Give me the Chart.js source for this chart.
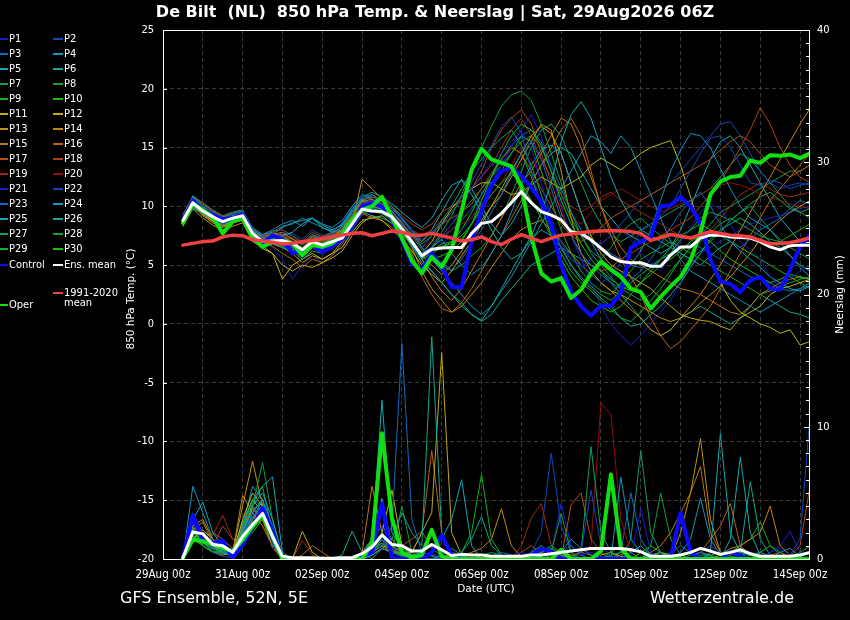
<!DOCTYPE html>
<html>
<head>
<meta charset="utf-8">
<script src="https://cdn.jsdelivr.net/npm/chart.js@4.4.1/dist/chart.umd.min.js"></script>
<style>
html,body{margin:0;padding:0;background:#000;width:850px;height:620px;overflow:hidden}
#wrap{position:relative;width:850px;height:620px;background:#000;font-family:'DejaVu Sans Condensed','DejaVu Sans',sans-serif;color:#fff}
#c{position:absolute;left:0;top:0}
.t{position:absolute;white-space:pre;line-height:1}
.sw{position:absolute;height:2px}
.lg{position:absolute;font-size:11px;line-height:12px;white-space:pre}
</style>
</head>
<body>
<div id="wrap">
<canvas id="c" width="850" height="620"></canvas>
<div class="t" id="title" style="left:0;width:870px;text-align:center;top:4px;font-family:'DejaVu Sans',sans-serif;font-weight:bold;font-size:16px">De Bilt  (NL)  850 hPa Temp. &amp; Neerslag | Sat, 29Aug2026 06Z</div>
<div class="t" style="left:120px;top:590px;font-size:16px;font-family:'DejaVu Sans',sans-serif">GFS Ensemble, 52N, 5E</div>
<div class="t" style="right:56px;top:590px;font-size:16px;font-family:'DejaVu Sans',sans-serif">Wetterzentrale.de</div>
<div class="t" style="left:436px;width:100px;text-align:center;top:583px;font-size:10.5px;font-family:'DejaVu Sans',sans-serif">Date (UTC)</div>
<div id="legend"></div>
</div>
<script>
// time steps (hours after 29Aug 00z)
const hours = [12,18,24,30,36,42,48,54, 60,66,72,78,84,90,96,102, 108,114,120,126,132,138,144,150, 156,162,168,174,180,186,192,198, 204,210,216,222,228,234,240,246, 252,258,264,270,276,282,288,294, 300,306,312,318,324,330,336,342, 348,354,360,366,372,378,384,390];
const dayTicks = [0,24,48,72,96,120,144,168,192,216,240,264,288,312,336,360,384];
const tickLabels = ['29Aug 00z','31Aug 00z','02Sep 00z','04Sep 00z','06Sep 00z','08Sep 00z','10Sep 00z','12Sep 00z','14Sep 00z'];
const axisTitles = ['850 hPa Temp. (°C)', 'Neerslag (mm)'];

const memberColors = ['#1a1ec8','#1048b8','#106cc0','#1096c0','#10aab4','#10a890','#10a05c','#10a040','#10b020','#10c010',
  '#b8b810','#c0a810','#bc9410','#c08810','#c07410','#b86410','#b45010','#b04018','#a02818','#901010',
  '#1a1ec8','#1048b8','#106cc0','#1096c0','#10aab4','#10a890','#10a05c','#10a040','#10b020','#10c010'];

// 850 hPa temperature (°C)
const climMean = [6.7,6.85,7.0,7.05,7.4,7.55,7.5,7.15, 7.05,6.95,6.8,6.85,7.0,7.1,7.25,7.4, 7.55,7.7,7.75,7.5,7.7,7.9,7.8,7.55, 7.55,7.7,7.5,7.3,7.05,7.15,7.4,7.0, 6.75,7.2,7.6,7.3,7.0,7.3,7.55,7.65, 7.75,7.85,7.9,7.95,7.9,7.85,7.7,7.1, 7.35,7.6,7.45,7.3,7.6,7.85,7.7,7.55, 7.5,7.4,7.1,6.8,6.85,6.9,7.1,7.3];
const ensMean = [8.8,10.3,9.6,9.1,8.7,9.0,9.2,7.7, 7.0,7.05,7.1,6.85,6.3,7.0,6.7,7.0, 7.3,8.5,9.75,9.6,9.55,9.1,8.1,7.0, 5.8,6.35,6.45,6.5,6.5,7.7,8.55,8.7, 9.4,10.3,11.25,10.3,9.55,9.25,8.85,7.85, 7.7,7.15,6.45,5.7,5.3,5.2,5.2,4.9, 4.9,5.85,6.55,6.55,7.3,7.55,7.55,7.4, 7.35,7.3,7.0,6.55,6.3,6.65,6.7,6.7];
const oper = [8.6,10.25,9.7,9.1,7.7,8.7,9.0,7.3, 6.55,7.0,7.0,6.85,5.85,6.7,6.55,6.85, 7.6,8.85,9.7,10.0,10.8,9.0,7.3,5.4, 4.3,5.7,4.85,6.3,9.6,13.1,14.9,14.0, 13.7,13.4,11.7,7.4,4.3,3.6,3.9,2.2, 2.9,4.3,5.3,4.6,4.0,3.0,2.7,1.3, 2.3,3.2,4.0,5.4,7.8,11.0,12.1,12.5, 12.6,13.9,13.7,14.35,14.3,14.4,14.1,14.5];
const control = [8.8,10.5,9.7,9.3,8.9,9.0,9.3,7.5, 6.9,7.5,7.2,6.0,6.2,6.8,6.1,6.6, 7.2,8.4,10.0,10.25,10.0,8.85,7.15,5.15, 4.6,6.0,4.85,3.15,3.1,7.0,9.6,11.8, 13.0,13.3,12.6,11.6,10.4,8.4,5.0,2.7, 1.5,0.7,1.55,1.55,2.6,6.5,7.0,7.4, 10.0,10.1,10.8,10.0,8.5,5.5,3.6,3.4, 2.7,3.7,4.0,3.0,2.9,4.6,6.6,7.6];

const p01 = [9,10.5,9.8,9.2,8.9,9.3,9.5,7.8, 7.2,7.0,7.3,6.5,6.0,6.8,6.3,6.9, 7.5,8.8,10.2,10.5,10.0,9.4,8.5,7.2, 6.0,6.8,7.5,8.5,9.8,11.5,12.6,13.8, 14.5,15.5,16.4,15.0,12.0,9.0,7.0,5.5, 4.8,5.5,6.8,7.5,8.0,7.2,6.0,5.2, 4.5,5.8,7.0,8.2,9.5,10.2,9.8,8.5, 7.0,6.3,5.5,4.0,3.2,3.8,4.5,5.0];
const p02 = [8.5,10.2,9.5,9.0,8.5,8.9,9.0,7.5, 6.8,7.0,6.6,6.2,5.8,6.5,6.0,6.6, 7.0,8.0,9.5,9.8,9.9,9.5,8.8,8.0, 7.2,7.8,8.4,9.5,10.8,12.0,13.6,15.2, 16.8,17.6,16.2,13.0,10.0,8.0,6.5,5.5, 5.0,4.2,3.5,4.0,5.2,6.5,7.8,8.5, 9.2,10.0,11.5,13.0,14.5,15.8,16.0,15.0, 13.5,12.0,11.8,12.2,12.0,11.5,11.8,12.0];
const p03 = [9.2,10.6,9.9,9.5,9.0,9.4,9.6,8.0, 7.5,7.2,7.8,7.5,6.8,7.5,7.3,7.6, 8.2,9.5,10.8,11.0,10.5,9.8,9.0,8.0, 6.5,5.8,5.2,4.6,5.5,6.8,8.0,9.5, 11.0,12.8,14.5,15.5,14.0,11.5,9.0,7.5, 6.0,5.0,4.2,3.5,3.0,3.8,4.5,5.5, 6.8,8.2,9.5,10.5,11.2,10.0,8.5,7.0, 6.5,7.2,8.0,8.5,9.0,9.8,10.5,10.2];
const p04 = [8.8,10.0,9.6,9.2,8.8,9.1,9.4,8.2, 7.6,7.8,8.3,8.5,9.0,8.6,8.2,7.9, 8.5,9.8,10.6,10.2,10.0,9.2,8.2,6.8, 5.5,6.5,7.2,6.0,5.0,4.2,4.8,6.0, 7.5,9.5,11.8,13.5,14.8,15.2,14.5,12.0, 9.5,7.0,5.5,4.8,4.2,5.0,6.2,8.0, 10.5,13.0,14.8,16.2,16.0,15.0,13.2,11.5, 10.0,9.0,8.5,8.0,7.0,5.8,4.8,4.0];
const p05 = [8.6,10.4,9.7,9.0,8.6,9.0,9.2,7.6, 7.0,7.2,7.5,7.8,8.5,9.0,8.2,7.8, 8.0,9.0,10.0,10.4,10.8,10.2,9.5,8.8, 8.2,9.0,10.5,11.8,12.2,11.0,9.5,8.0, 6.5,5.5,6.0,7.5,9.5,12.0,15.5,17.8, 18.9,17.5,15.0,12.5,10.5,9.0,8.0,7.5, 7.0,6.5,6.0,5.5,5.0,5.8,6.5,7.0, 6.2,5.5,4.8,4.0,3.5,3.0,2.8,3.2];
const p06 = [9.0,10.8,10.0,9.4,9.0,9.2,9.3,7.9, 7.3,6.8,6.5,6.2,5.5,6.2,6.0,6.5, 7.2,8.5,9.5,9.2,9.0,8.6,7.8,6.6, 5.2,4.5,3.5,2.5,1.8,0.8,0.3,1.5, 3.0,4.5,6.0,7.2,8.0,7.5,6.5,5.0, 3.8,3.0,2.2,1.5,0.5,-0.2,0.0,0.8, 1.5,2.5,3.5,4.8,6.0,7.2,8.0,8.5, 9.0,8.5,7.8,7.0,6.5,5.8,5.0,4.5];
const p07 = [8.4,9.8,9.4,8.9,8.4,8.8,9.1,7.6, 7.0,7.5,7.2,6.8,6.4,7.0,6.8,7.2, 7.8,9.2,10.6,11.0,10.4,9.6,8.6,7.6, 6.8,7.5,8.8,10.0,11.5,13.0,14.0,15.0, 15.8,16.5,15.2,13.5,11.0,8.5,6.5,5.0, 4.0,3.2,2.5,2.0,2.8,3.5,4.2,4.8, 5.5,6.0,7.2,8.0,9.0,9.5,9.2,8.8, 9.5,10.2,10.8,11.2,10.5,9.8,9.5,9.8];
const p08 = [9.1,10.5,9.8,9.3,8.8,9.2,9.4,7.8, 7.2,7.4,7.0,6.6,6.0,6.8,6.5,7.0, 7.6,8.8,10.0,10.2,10.0,9.3,8.3,7.0, 5.8,6.5,7.8,9.2,11.0,13.0,15.0,16.8, 18.5,19.5,19.8,19.0,17.0,14.5,12.0,9.5, 7.5,6.2,5.5,6.5,7.8,8.5,9.0,8.2, 7.5,6.8,6.0,5.5,6.2,7.0,7.8,8.8, 9.5,10.0,9.0,8.0,7.2,6.5,6.0,5.5];
const p09 = [8.7,10.1,9.5,9.0,8.6,9.0,9.2,7.5, 6.9,7.1,6.9,6.7,6.2,7.0,6.6,7.0, 7.4,8.6,9.8,9.6,9.4,8.8,7.9,6.9, 5.6,6.2,6.8,7.0,7.5,8.5,9.8,11.0, 12.0,12.8,12.0,10.5,9.0,7.5,6.0,4.5, 3.5,2.8,2.0,1.2,0.5,0.2,1.0,2.0, 3.0,4.2,5.5,6.5,7.0,7.8,8.5,9.0, 8.5,8.0,7.5,7.2,7.0,7.5,8.0,8.5];
const p10 = [8.9,10.4,9.7,9.1,8.7,9.1,9.3,7.7, 7.0,7.1,7.0,6.9,6.5,7.1,6.8,7.1, 7.4,8.6,9.9,9.8,9.6,9.0,8.0,6.9, 5.8,6.3,6.6,6.8,7.2,8.5,10.5,12.5, 14.5,16.0,17.0,16.5,15.2,13.0,10.5,8.5, 6.8,5.5,4.5,3.8,3.2,2.8,3.5,4.2, 5.0,5.5,6.2,7.0,7.5,7.0,6.2,5.5, 5.0,4.5,4.0,3.5,3.8,4.2,4.0,3.8];
const p11 = [8.5,10.0,9.4,8.8,8.4,8.7,8.9,7.3, 6.6,6.0,3.8,5.0,5.5,6.0,5.5,6.0, 6.5,7.8,8.8,9.0,9.2,8.5,7.6,6.8, 6.0,7.0,8.5,9.8,10.8,11.5,12.0,12.0, 11.5,11.0,11.2,11.8,12.5,12.0,11.5,12.0, 12.5,13.5,14.1,13.6,13.1,13.8,14.5,15.0, 15.3,15.6,13.5,10.8,8.0,5.5,3.5,2.0, 1.0,0.5,0.0,-0.3,-0.8,-0.5,-1.8,-1.5];
const p12 = [9.0,10.3,9.2,8.6,8.2,8.6,9.0,7.2, 6.4,6.0,5.0,4.5,5.0,4.8,5.2,5.6, 6.2,7.5,8.6,9.2,8.8,8.0,7.2,6.2, 5.0,4.2,3.5,4.5,5.8,7.0,8.5,10.0, 11.5,13.0,14.5,16.0,16.8,16.2,14.5,12.0, 9.5,7.5,6.0,5.0,4.5,4.0,3.5,3.0, 2.2,1.5,0.8,0.5,0.3,0.2,-0.2,-0.5, 0.5,1.0,1.5,2.5,3.0,3.2,3.5,3.8];
const p13 = [8.3,9.8,9.0,8.4,8.0,8.3,8.6,7.0, 6.5,6.8,6.5,6.0,5.2,5.8,5.5,6.0, 7.0,8.5,12.3,11.5,10.6,9.6,8.5,7.2, 5.8,5.0,4.2,5.0,6.2,7.5,8.8,10.0, 11.0,12.5,14.0,15.5,17.0,16.5,13.0,9.0, 6.0,4.5,3.5,2.8,2.5,2.0,1.5,1.0, 0.5,0.2,0.5,1.0,1.8,2.5,3.2,4.0, 5.0,6.0,7.2,8.0,8.8,9.5,10.0,10.5];
const p14 = [8.6,10.2,9.3,8.7,8.3,8.6,8.8,7.2, 6.8,7.1,7.4,7.0,6.4,7.0,6.8,7.3, 8.0,9.5,10.5,10.0,9.8,9.0,8.0,6.5, 4.5,3.0,2.0,1.0,1.5,2.5,3.5,4.8, 6.0,7.2,8.0,8.5,8.8,8.0,7.0,6.0, 5.0,4.2,3.5,2.8,2.0,1.2,0.5,-0.5, -1.0,-0.5,0.5,1.5,2.5,3.8,5.0,6.5, 8.0,9.5,11.0,12.5,14.0,15.5,17.0,18.3];
const p15 = [8.8,10.5,9.9,9.4,9.0,9.3,9.5,8.0, 7.4,7.6,7.8,7.2,6.8,7.5,7.1,7.5, 8.0,9.2,10.4,10.6,10.2,9.5,8.5,7.2, 5.5,4.0,2.8,2.0,3.0,4.5,6.0,7.5, 9.0,10.5,12.0,13.0,14.5,16.0,17.5,17.0, 15.0,12.5,10.0,8.0,6.5,5.5,5.0,4.5, 4.0,3.5,3.0,2.8,2.5,2.0,1.5,1.0, 0.8,1.5,2.5,3.0,3.5,3.8,4.0,3.8];
const p16 = [9.3,10.8,10.2,9.6,9.1,9.4,9.6,7.9, 7.1,6.6,6.0,5.5,4.8,5.5,5.2,5.8, 6.8,8.2,9.4,9.0,8.8,8.2,7.5,6.0, 4.0,2.5,1.3,1.0,1.8,3.0,4.5,6.0, 7.5,9.0,10.5,12.0,13.5,15.0,16.5,17.5, 16.0,13.0,10.0,7.5,5.5,4.0,2.5,0.5, -1.0,-2.1,-1.5,-0.5,0.5,1.5,3.0,4.5, 6.0,7.5,9.0,10.5,11.5,12.5,13.5,14.5];
const p17 = [8.7,10.1,9.6,9.1,8.7,9.0,9.3,7.8, 7.3,7.6,7.6,7.3,6.7,7.4,7.0,7.4, 7.9,9.0,10.2,10.3,10.0,9.2,8.4,7.6, 7.0,7.8,8.5,9.0,9.5,10.2,11.5,12.8, 14.0,15.0,14.5,13.0,11.5,10.0,8.5,7.5, 7.0,7.5,8.2,9.0,9.5,10.0,10.5,11.0, 11.5,12.0,12.5,13.0,13.5,14.0,14.8,15.5, 16.0,15.5,14.5,13.5,13.0,12.5,13.0,13.5];
const p18 = [8.9,10.4,9.8,9.3,8.9,9.2,9.5,7.9, 7.4,7.9,8.0,7.5,7.0,7.8,7.4,7.8, 8.2,9.4,10.5,10.8,10.6,10.0,9.2,8.5, 8.0,8.5,9.5,10.0,10.5,11.5,13.0,15.0, 16.5,17.5,18.2,17.0,14.5,12.0,9.5,7.5, 6.0,5.0,4.5,4.8,5.5,6.0,6.5,7.0, 7.5,8.0,8.5,9.0,10.0,11.0,12.0,13.5, 15.0,16.5,18.4,17.0,15.0,13.5,12.5,12.0];
const p19 = [8.6,10.0,9.5,9.0,8.5,8.9,9.1,7.5, 7.0,7.3,7.1,6.9,6.5,7.2,6.8,7.2, 7.7,8.8,9.9,10.0,9.9,9.4,8.7,8.0, 7.5,8.0,8.8,9.5,10.5,11.5,12.5,13.5, 15.0,16.5,17.5,16.0,14.0,12.5,11.0,10.0, 9.5,10.0,10.8,11.2,10.5,10.0,9.5,9.0, 8.5,8.0,7.5,7.2,7.5,8.0,9.0,10.0, 11.0,11.5,12.0,11.5,11.0,10.8,11.0,11.2];
const p20 = [9.0,10.6,10.0,9.5,9.1,9.4,9.6,8.0, 7.5,7.8,7.5,7.2,6.9,7.5,7.2,7.6, 8.0,9.2,10.3,10.5,10.0,9.3,8.4,7.5, 6.5,7.0,7.5,8.0,8.5,9.0,10.0,11.0, 12.0,13.5,15.0,14.0,12.5,11.0,10.0,9.0, 8.5,9.5,10.5,11.0,11.5,11.0,10.5,10.0, 9.5,9.8,10.2,10.5,11.0,11.5,11.8,12.0, 11.8,11.5,11.0,10.8,10.5,10.2,10.0,9.8];
const p21 = [8.8,10.3,9.7,9.2,8.8,9.2,9.4,7.7, 7.0,6.5,5.5,3.8,5.0,5.8,5.2,5.8, 6.5,8.0,9.3,9.5,9.4,8.9,8.0,6.8, 5.6,6.2,6.8,7.5,8.0,9.0,10.5,12.0, 13.5,15.0,16.5,17.8,16.0,13.0,10.0,7.5, 5.5,3.5,1.5,0.0,-1.0,-1.8,-1.0,0.0, 1.0,2.0,3.5,5.0,6.0,6.5,7.0,7.5, 8.0,8.5,8.8,9.0,9.2,9.5,9.8,10.0];
const p22 = [9.1,10.7,10.1,9.5,9.0,9.3,9.5,7.9, 7.3,7.4,7.6,7.7,7.2,8.0,7.5,7.8, 8.6,9.8,11.0,10.8,10.5,9.8,8.9,7.8, 6.5,7.5,8.5,9.5,10.5,11.5,12.5,13.5, 14.0,13.5,12.5,11.5,10.5,9.5,8.8,8.0, 7.5,7.0,6.8,7.5,8.5,9.5,10.5,11.0, 11.5,12.0,13.0,14.0,15.0,16.0,17.0,17.2, 16.0,14.5,13.0,12.0,11.5,11.8,12.0,11.8];
const p23 = [8.5,9.9,9.3,8.8,8.4,8.8,9.0,7.4, 6.8,7.0,6.8,6.4,5.8,6.6,6.2,6.7, 7.2,8.4,9.6,9.7,9.5,8.9,8.0,7.0, 6.0,6.5,7.2,8.0,8.8,9.8,11.0,12.5, 14.0,15.2,16.0,16.5,15.5,13.5,11.5,9.5, 8.0,7.0,6.5,6.0,5.5,5.0,4.8,5.0, 5.5,6.0,6.5,6.8,6.5,6.0,5.5,5.0, 4.5,4.0,3.8,3.5,3.0,2.8,3.0,3.2];
const p24 = [9.0,10.5,9.9,9.4,9.0,9.3,9.5,8.0, 7.6,8.0,8.5,8.8,8.3,9.0,8.5,8.2, 8.8,10.0,11.0,10.6,10.2,9.4,8.5,7.5, 6.5,5.5,4.5,3.5,2.5,1.5,0.8,1.5, 2.8,4.0,5.5,7.0,8.5,10.0,11.5,13.0, 14.5,16.0,15.5,14.5,16.0,15.0,13.0,11.0, 9.0,7.0,5.5,4.5,4.0,3.5,3.0,2.5, 2.0,1.5,1.0,1.5,2.0,2.5,3.0,3.5];
const p25 = [8.7,10.2,9.6,9.1,8.7,9.0,9.2,7.6, 7.0,7.6,8.2,8.6,8.8,9.0,8.4,8.0, 8.4,9.6,10.5,10.8,10.5,9.8,9.0,8.0, 7.0,8.0,9.5,11.0,12.3,11.5,10.0,8.5, 7.5,8.5,10.0,12.0,13.5,14.5,15.0,14.5, 13.0,11.5,10.0,9.0,8.0,7.5,7.0,6.5, 6.0,6.5,8.0,10.0,12.0,14.0,15.5,16.0, 15.0,13.5,12.0,10.5,9.0,8.0,7.0,6.5];
const p26 = [8.4,10.0,9.5,8.9,8.5,8.9,9.1,7.4, 6.8,6.9,6.7,6.5,6.0,6.8,6.4,6.9, 7.5,8.7,9.9,10.0,9.7,9.0,8.0,6.8, 5.5,4.5,3.5,2.5,1.5,0.8,0.2,0.8, 2.0,3.0,4.0,5.0,5.5,6.0,6.5,6.0, 5.5,5.0,4.5,3.5,2.5,1.5,0.5,-0.5, -1.0,-0.5,0.5,1.0,1.5,1.0,0.5,0.0, 0.5,1.5,2.5,2.0,1.5,1.0,0.8,0.5];
const p27 = [9.2,10.9,10.3,9.7,9.2,9.5,9.7,8.1, 7.5,7.7,7.4,7.2,6.8,7.6,7.3,7.7, 8.3,9.6,10.8,11.2,10.8,10.0,9.0,7.8, 6.5,5.5,5.0,4.5,5.0,5.8,6.5,7.5, 9.0,11.0,13.0,15.0,16.5,17.0,16.0,14.0, 12.0,10.0,8.5,7.5,7.0,7.5,8.0,8.5, 9.0,9.5,10.0,10.5,11.0,11.5,12.5,13.5, 14.5,14.0,13.0,12.0,11.0,10.0,9.5,9.0];
const p28 = [8.6,10.1,9.4,8.9,8.5,8.9,9.2,7.6, 7.0,7.3,7.2,6.9,6.3,7.0,6.7,7.1, 7.6,8.7,9.9,9.9,9.8,9.2,8.3,7.2, 6.0,6.5,7.5,8.5,9.5,10.5,11.5,12.5, 13.5,14.5,15.5,16.0,15.0,13.0,11.0,9.0, 7.5,6.0,5.0,4.0,3.0,2.5,2.0,2.5, 3.5,4.5,5.5,6.5,7.5,8.5,9.5,10.0, 10.5,11.0,11.5,12.0,12.5,13.0,13.0,13.5];
const p29 = [8.9,10.4,9.8,9.3,8.9,9.2,9.4,7.8, 7.2,7.4,7.3,7.0,6.5,7.3,6.9,7.3, 7.9,9.1,10.3,10.4,10.1,9.5,8.6,7.5, 6.3,5.5,5.8,6.2,7.0,8.5,10.0,11.5, 13.0,14.5,16.0,15.5,13.0,10.5,8.0,6.0, 4.5,3.5,2.8,2.5,3.5,4.5,5.5,6.0, 6.5,7.0,6.5,6.0,5.5,5.0,4.5,4.0, 3.5,3.0,2.5,2.8,3.2,3.5,3.8,4.0];
const p30 = [8.5,9.9,9.3,8.8,8.4,8.7,8.9,7.3, 6.7,6.9,6.6,6.3,5.7,6.5,6.1,6.6, 7.1,8.3,9.5,9.6,9.4,8.8,7.8,6.7, 5.5,6.0,6.5,7.0,8.0,9.5,11.0,12.5, 14.0,15.0,14.5,12.5,10.0,7.5,5.5,4.0, 3.0,2.0,1.5,1.0,1.5,2.5,3.5,4.5, 5.5,6.5,7.5,8.0,8.5,8.0,7.5,7.0, 6.5,6.0,5.5,5.0,4.5,4.0,3.5,3.0];
const members = [p01,p02,p03,p04,p05,p06,p07,p08,p09,p10,p11,p12,p13,p14,p15,p16,p17,p18,p19,p20,p21,p22,p23,p24,p25,p26,p27,p28,p29,p30];

// precipitation (mm)
const rainMean = [0.1,2.05,1.9,1.1,1.0,0.5,1.7,2.6, 3.45,1.7,0.2,0.1,0.1,0.1,0.05,0.05, 0.1,0.1,0.4,0.9,1.8,1.1,1.0,0.6, 0.6,1.1,0.7,0.25,0.35,0.3,0.3,0.2, 0.2,0.2,0.2,0.3,0.3,0.4,0.5,0.6, 0.7,0.8,0.8,0.8,0.8,0.7,0.55,0.2, 0.2,0.2,0.3,0.5,0.8,0.6,0.35,0.5, 0.7,0.4,0.2,0.2,0.2,0.2,0.3,0.5];
const rainOper = [0.1,1.45,1.35,1.1,0.85,0.6,1.45,2.45, 3.35,1.7,0,0,0,0,0,0, 0,0,0,1.2,9.5,3.1,0.5,0.1, 0.3,2.2,0.2,0,0,0,0,0, 0,0,0,0,0,0,0.7,0, 0,0,0.6,6.4,0.8,0,0,0, 0,0,0,0,0,0,0,0, 0,0,0,0,0,0,0,0];
const rainControl = [0.1,3.3,1.4,1.2,1.4,0.1,1.1,2.4, 3.85,2.1,0,0,0,0,0,0, 0,0,0.2,0.5,4.2,0.1,0,0, 0,0.5,1.8,0.3,0,0,0,0, 0,0,0,0.3,0.8,0.5,0,0, 0,0,0,0,0,0,0,0, 0,0,3.5,0.5,0,0,0,0.55, 0.2,0,0,0,0,0,0,0];
const r01 = [0.1,2.8,1.6,1.0,0.8,0.3,1.2,2.6, 3.5,1.2,0,0,0,0,0,0, 0,0,0.5,1.2,2.5,0.8,0.5,0.2, 0,0.4,0.2,0,0,0,0.3,0, 0,0.2,0.5,0.3,0,0,0,0, 0.3,0.5,0.2,0,0,0,3.8,0.5, 0,0,0.3,0.5,0.2,0,0,0, 0,0,0,0.5,0.8,0.3,0,0];
const r02 = [0,3.5,2.0,0.5,0.2,0.1,1.0,2.2, 3.8,1.0,0,0,0,0,0,0, 0,0,0,0.8,1.5,0.5,0.2,0, 0,0,0,0.2,0.5,0,0,0, 0,0,0,0.3,0.8,0.4,0,0, 0.5,5.2,1.0,0.2,0,0,0,0, 0,0,0,0,0.5,1.0,0.5,0, 0,0,0.2,0,0,0.3,1.5,10.8];
const r03 = [0.1,2.2,1.8,1.2,0.6,0.2,1.6,3.2, 4.0,2.0,0.1,0,0,0,0,0, 0,0,0.2,0.5,1.0,2.5,16.3,3.0, 0.5,0.2,0,0,0,0,0,0.2, 0.5,0.3,0,0,0,0,0.5,1.0, 0.3,0,0,0,0,0.2,0,0, 0,0.5,1.0,0.5,0,0,0,0, 0.2,0.5,0.3,0,0,0,0,0];
const r04 = [0.1,5.5,3.5,1.5,0.5,0.2,1.5,3.5, 4.5,2.5,0,0,0,0,0,0, 0,0,0,0.3,0.8,0.5,0.2,0, 0,0,0.3,0.8,0.3,0,0,0, 0,0,0,0,0,0,0.5,1.5, 0.8,0.3,0,0,6.2,1.5,0.5,0, 0,0,0,0.3,0.5,0.2,0,0, 0,0,0,0,0.5,0.8,0.2,0];
const r05 = [0.2,3.0,4.3,2.0,1.0,0.4,2.0,4.0, 5.0,3.0,0.2,0,0,0,0,0, 0,0,0.5,1.5,12.0,2.0,0.8,0.3, 0,0,0,0.5,0.2,0,0,0, 0,0,0,0,0.3,0.5,0,0, 0,0,0,0,0,0.5,1.0,0.3, 0,0,0,0,0,0.5,9.5,2.0, 0.5,0,0,0,0,0,0,0];
const r06 = [0.1,1.8,1.2,0.8,0.5,0.3,1.8,3.0, 4.5,1.8,0,0,0,0,0,0, 0.3,2.1,0.5,0,0.8,1.5,3.5,2.0, 1.0,16.8,2.0,0.5,0,0,0,0, 0,0,0,0,0.5,0.8,0.3,0, 0,0,0,0.2,0,0,0,0.3, 0.5,0.2,0,0,0,0,0,0, 0,0.3,0.5,0.2,0,0,0,0];
const r07 = [0,2.0,1.5,0.8,0.6,0.4,2.5,4.5, 5.5,2.0,0,0,0,0,0,0, 0,0,0.3,1.0,2.0,1.0,0.5,0.2, 0.1,0,0,0,0,0,0,0, 0,0,0,0.3,0.5,1.0,0.5,0, 0.5,8.5,2.0,0.5,0,0,0,0, 0,0,0,0,0,0.3,0.5,0.2, 0,0,0,0,0,0,0.5,1.0];
const r08 = [0.1,2.4,1.0,0.5,0.5,0.3,2.0,4.0, 7.3,3.0,0.3,0,0,0,0,0, 0,0,0,0.5,1.5,0.5,4.0,0.5, 0,0,0,0,0,0,0.3,0.5, 0.2,0,0,0,0.3,0.5,3.45,0.5, 0,0,0,0.5,1.0,0.5,0,0, 0,0,0,0,0.3,0.3,0,0, 0,0,0,0,0,0,0,0];
const r09 = [0.1,1.5,1.0,0.6,0.5,0.2,1.5,2.8, 3.2,1.5,0,0,0,0,0,0, 0,0,0.2,0.5,1.5,0.5,0.3,0, 0,0,0,0,0.5,2.0,6.4,1.5, 0.3,0,0,0,0,0,0,0, 0,0,0,0.3,0.5,0.2,0,0, 0,0,0,0,0,0,0,0.3, 0.5,0.3,0,0,0,0,0,0];
const r10 = [0.1,2.0,1.2,1.0,0.7,0.5,1.2,2.0, 3.0,1.2,0,0,0,0,0,0, 0,0,0.2,0.8,1.2,0.6,0.4,0.2, 0.1,0.3,0,0,0,0,0,0, 0,0,0,0.5,1.0,0.5,0,0, 0,0,0,0,0,0,0.5,1.0, 0.5,0,0,0,0,0,0,0, 0,0,0.5,1.0,0.5,0,0,0];
const r11 = [0,1.5,2.2,1.5,0.8,0.3,3.0,5.0, 4.0,1.5,0,0,0,0,0,0, 0,0,0.3,1.0,2.0,5.2,1.0,0.3, 0,0,0,0,0,0,0,0, 0,0,0,0,0,0,0,0, 0,0,0,0,0,0,0,0.2, 0.5,0.3,0,0,0,0,0,0, 0,0,0,0,0,0,0,0];
const r12 = [0.1,2.0,1.5,1.0,0.5,0.2,2.5,4.5, 3.5,1.0,0,0,2.1,0.5,0,0, 0,0,0,0.3,0.8,0.5,0.3,0.5, 2.0,3.5,15.6,2.0,0.3,0,0,0, 0,0,0,0,0,0,0,0, 0,0,0.3,0.5,0.2,0,0,0, 0,0,0,0,0,0,0,0, 0,0,0,0,0,0,0,0];
const r13 = [0.1,1.8,1.0,0.5,0.3,0.5,4.0,7.4, 4.0,1.0,0,0,0,0,0,0, 0,0,0.5,1.5,2.5,1.5,0.5,0.2, 0,0,0,0,0,0,0,0, 0,0,0,0,0.2,0.5,0.3,0, 0,0,0,0,0,0,0,0.5, 0,0,2.0,5.0,9.1,3.0,0.5,0, 0,0,0,0,0,0,0,0];
const r14 = [0.1,2.5,3.0,1.5,0.8,0.5,4.8,3.5, 2.5,1.0,0,0,0,0,0,0, 0,0,0,0.5,1.0,0.8,0.3,0, 0,0,0,0,0.2,0.5,0.8,1.5, 3.8,1.0,0.2,0,0,0,0,0, 0,0,0,0,0,0,0,0, 0,0,0,0,0,0,0.3,0.8, 1.0,1.5,2.0,4.0,1.0,0.3,0,0];
const r15 = [0.1,2.2,2.8,1.2,0.6,0.2,2.0,3.8, 3.0,1.0,0,0,0,0,0,0, 0,0,0.5,5.5,2.0,1.0,0.5,0.2, 0,0,0,0,0,0,0,0, 0,0,0,0,0,0,0,0.2, 0.5,0.3,0,0,0,0,0,0.5, 1.0,2.0,3.5,5.0,7.0,2.0,0.5,0, 0,0,0,0,0,0,0,0];
const r16 = [0.1,3.0,2.0,1.0,0.8,0.5,1.8,3.0, 3.5,1.5,0,0,0.3,1.0,0.5,0, 0,0,0.3,0.8,1.5,0.8,0.5,0.5, 2.0,8.2,2.0,0.3,0,0,0,0, 0,0,0,0,0,0,0,0, 0,0,0,0,0.3,0.8,0.5,0, 0,0,0,0,0.5,1.5,2.5,4.2, 1.0,0.3,0,0,0,0,0,0];
const r17 = [0,2.5,1.5,2.0,1.5,0.8,2.5,4.0, 3.0,1.0,0,0,0,0,0,0, 0,0,0,0.5,1.0,0.5,1.0,1.5, 2.1,0.8,0.2,0,0,0,0,0, 0,0,0,0,0,0,0,4.1, 5.0,1.5,0.5,0,0,0,0,0, 0,0,0,0,0.5,0.3,0,0, 0,0,0,0,0,0,0,0];
const r18 = [0.1,2.0,1.5,1.0,2.5,1.5,1.5,3.0, 4.0,1.5,0,0,0,0,0,0, 0,0,0.2,0.5,1.0,0.5,0.3,0, 0,0,0,0,0,0,0,0, 0,0,0.5,1.0,0.5,0.3,0,0, 0,0,0,0,0,0,0,0, 0,0,0,0,0,0,0,0, 0,0,0,0.3,0.5,0.2,1.0,5.5];
const r19 = [0.1,1.5,2.0,1.8,3.3,1.5,1.0,2.5, 3.0,0.8,0,0,1.4,0.3,0,0, 0,0,0,0.3,0.8,0.5,0.2,0, 0,0,0,0,0,0,0,0, 0,0,1.0,3.1,4.2,1.0,0.3,0, 0,0,0,0,0,0,0,0, 0,0,0,0,0,0,0,0, 0,0,0,0,0,0,0,0];
const r20 = [0.1,1.8,1.2,0.8,0.5,0.3,1.5,2.5, 3.0,1.0,0,0,0,0,0,0, 0,0,0,0.5,1.0,0.5,0.2,0, 0,0,0,0,0,0,0,0, 0,0,0,0,0,0,0,0.3, 0.5,1.0,11.8,10.9,3.0,0.5,0,0, 0,0,0,0,0,0,0,0, 0,0,0,0,0,0,0,0];
const r21 = [0.1,2.5,1.8,1.0,0.6,0.2,1.5,3.0, 4.0,1.5,0,0,0,0,0,0, 0,0,0.3,0.8,1.5,0.8,0.3,0, 0,0,0,0,0,0,0,0, 0,0,0,0,0,0.5,4.2,1.0, 0.3,0,0,0,0,0,0,0, 0,0,0,0,0,0,0,0, 0,0,0,0.5,1.0,2.1,0.5,0];
const r22 = [0,2.0,1.4,0.8,0.5,0.3,1.8,3.5, 4.5,1.8,0,0,0,0,0,0, 0,0,0,0.5,1.2,0.6,0.3,0, 0,0,0,0,0,0,0,0, 0,0,0,0.5,2.0,8.0,2.5,0.5, 0,0,0,0,0,0,0,0, 0,0,0,0,0,0,0,0, 0,0,0,0,0,0,0,0];
const r23 = [0.1,3.0,2.0,1.0,0.5,0.3,2.0,3.5, 4.0,1.5,0,0,0,0,0,0, 0,0,0.3,1.0,1.5,0.5,0.3,0, 0,0,0,0,0,0,0,0, 0,0,0,0,0,0,0,0, 0,0,0,0,0.5,5.0,1.5,0.3, 0,0,0,0,0,0,0,0, 0,0,0,0,0,0,0,0];
const r24 = [0.1,2.8,1.6,0.8,0.5,0.3,2.5,5.5, 4.5,1.5,0,0,0,0,0,0, 0,0,0.5,1.0,4.6,1.0,0.4,0, 0,0,0,0,0,0,0,0, 0,0,0,0,0,0,0,0, 0,0,0,0,0,0,0,0, 0,0,0.5,1.5,4.6,1.5,0.3,0, 0,0,0,0,0,0,0,0];
const r25 = [0.1,2.2,1.8,1.0,0.8,0.4,2.2,4.2, 5.5,6.2,0.5,0,0,0,0,0, 0,0,0.3,0.8,1.5,0.8,0.5,0.3, 0.5,1.0,1.5,3.0,6.0,1.0,0,0, 0,0,0,0,0,0,0,0, 0,0,0,0,0,0,0,0, 0,0,0,0,0,0,0,1.5, 7.7,2.0,0.3,0,0,0,0,0];
const r26 = [0.1,1.6,1.2,0.8,0.5,0.3,1.5,3.0, 3.5,1.2,0,0,0,0,0,0, 0,0,0.2,0.5,1.0,0.5,0.3,0, 0,0,0,0,0.5,1.5,3.2,1.0, 0.3,0,0,0,0,0,0,0, 0,0,0,0,0,0,0,0, 0,0,0,0,0,0,0,0, 0.5,5.85,1.5,0.3,0,0,0,0];
const r27 = [0.1,2.0,1.4,1.0,0.8,0.5,2.8,4.5, 4.0,1.5,0,0,0,0,0,0, 0,0,0.3,0.8,1.8,0.8,0.4,0.2, 0,0,0,0,0,0,0,0, 0,0,0,0,0,0,0,0, 0,0,0,0,0,1.5,8.2,2.0, 0.5,0,0,0,0,0,0,0, 0,0,0,0,0,0,0,0];
const r28 = [0,1.8,1.2,0.6,0.4,0.3,2.0,3.8, 4.2,1.5,0,0,0,0,0,0, 0,0,0,0.5,1.0,0.5,0.3,0, 0,0,0,0,0,0,0,0, 0,0,0,0,0,0,0,0, 0,0,0,0,0,0,0,1.0, 5.0,1.5,0.3,0,0,0,0,0, 0,0,0,0,0,0,0,0];
const r29 = [0.1,2.0,1.6,0.9,0.6,0.3,1.8,3.2, 3.8,1.4,0,0,0,0,0,0, 0,0,0.2,0.6,1.2,0.6,0.3,0, 0,0,0,0,0,0,0,0, 0,0,0,0,0,0,0,0, 0,0,0,0,0,0,0,0, 0,0,0,0,0,0,0,0.5, 1.0,1.5,2.8,1.0,0.3,0,0,0];
const r30 = [0.1,2.2,1.5,1.0,0.7,0.4,1.6,2.8, 3.4,1.2,0,0,0,0,0,0, 0,0,0.2,0.5,1.0,0.5,0.2,0, 0,0,0,0,0,0,0,0, 0,0,0,0,0,0.3,0.5,0.3, 0,0,0,0,0,0,0,0, 0,0,0,0,0,0,0,0, 0,0,0,0,0,0,0,0];
const rainMembers = [r01,r02,r03,r04,r05,r06,r07,r08,r09,r10,r11,r12,r13,r14,r15,r16,r17,r18,r19,r20,r21,r22,r23,r24,r25,r26,r27,r28,r29,r30];

const COL_CONTROL = '#0a0aff', COL_OPER = '#10e010', COL_MEAN = '#ffffff', COL_CLIM = '#f04040';

function pts(arr){ return hours.map((h,i)=>({x:h,y:arr[i]})); }
const datasets = [];
function add(arr, color, width, axis, order){
  datasets.push({data:pts(arr), borderColor:color, backgroundColor:color, borderWidth:width, yAxisID:axis, order:order, fill:false, pointRadius:0});
}
members.forEach((m,i)=>add(m, memberColors[i], 1, 'y', 10));
rainMembers.forEach((m,i)=>add(m, memberColors[i], 1, 'y2', 10));
add(control, COL_CONTROL, 4, 'y', 4);
add(rainControl, COL_CONTROL, 4, 'y2', 4);
add(oper, COL_OPER, 4, 'y', 3);
add(rainOper, COL_OPER, 4, 'y2', 3);
add(ensMean, COL_MEAN, 3, 'y', 2);
add(rainMean, COL_MEAN, 3, 'y2', 2);
add(climMean, COL_CLIM, 3.5, 'y', 1);

const framePlugin = {
  id:'frame',
  afterDraw(chart){
    const {ctx, chartArea:a, scales} = chart;
    ctx.save();
    ctx.strokeStyle = '#ffffff'; ctx.lineWidth = 1;
    ctx.strokeRect(a.left+0.5, a.top+0.5, a.right-a.left-1, a.bottom-a.top);
    ctx.beginPath();
    for (let v=-20; v<=25; v+=5){ const y=Math.round(scales.y.getPixelForValue(v))+0.5; ctx.moveTo(a.left, y); ctx.lineTo(a.left+4, y); }
    for (let m=0; m<=40; m++){ const y=Math.round(scales.y2.getPixelForValue(m))+0.5; ctx.moveTo(a.right, y); ctx.lineTo(a.right-(m%10===0?6:4), y); }
    ctx.stroke();
    // rotated axis titles
    ctx.fillStyle = '#ffffff';
    ctx.font = "10.5px 'DejaVu Sans', sans-serif";
    ctx.textAlign = 'center'; ctx.textBaseline = 'middle';
    const midY = (a.top + a.bottom) / 2 + 4.5;
    ctx.save(); ctx.translate(131, midY); ctx.rotate(-Math.PI/2); ctx.fillText(axisTitles[0], 0, 0); ctx.restore();
    ctx.save(); ctx.translate(840, (a.top + a.bottom) / 2); ctx.rotate(-Math.PI/2); ctx.fillText(axisTitles[1], 0, 0); ctx.restore();
    ctx.restore();
  }
};

Chart.defaults.font.family = "'DejaVu Sans Condensed','DejaVu Sans',sans-serif";
Chart.defaults.color = '#ffffff';
const gridCfg = {color:'#3a3a3a', lineWidth:1, drawTicks:false};
new Chart(document.getElementById('c'), {
  type:'line',
  data:{datasets},
  plugins:[framePlugin],
  options:{
    responsive:false, animation:false, events:[], devicePixelRatio:1,
    layout:{padding:{left:0,right:0,top:30,bottom:0}},
    plugins:{legend:{display:false}, tooltip:{enabled:false}, title:{display:false}},
    elements:{point:{radius:0}, line:{tension:0, borderJoinStyle:'round', borderCapStyle:'round'}},
    scales:{
      x:{type:'linear', min:0, max:390,
        afterBuildTicks(s){ s.ticks = dayTicks.map(v=>({value:v})); },
        afterFit(s){ s.height = 61; },
        ticks:{color:'#ffffff', font:{size:11.5}, padding:9, maxRotation:0, autoSkip:false,
          callback:(v)=> (v%48===0 ? tickLabels[v/48] : '')},
        grid:gridCfg, border:{display:false, dash:[4,3]}},
      y:{position:'left', min:-20, max:25,
        afterFit(s){ s.width = 163; },
        ticks:{stepSize:5, color:'#ffffff', font:{size:11}, padding:9},
        grid:gridCfg, border:{display:false, dash:[4,3]}},
      y2:{position:'right', min:0, max:40,
        afterFit(s){ s.width = 40; },
        ticks:{stepSize:10, color:'#ffffff', font:{size:11}, padding:7},
        grid:{display:false, drawTicks:false}, border:{display:false}}
    }
  }
});

// legend
const lg = document.getElementById('legend');
function item(col, y, color, text, thick){
  const sw = document.createElement('div');
  sw.className = 'sw';
  sw.style.left = (col ? 53 : 0) + 'px';
  sw.style.width = (col ? 10 : 8) + 'px';
  sw.style.top = (y - 1) + 'px';
  sw.style.height = (thick || 2) + 'px';
  sw.style.background = color;
  lg.appendChild(sw);
  const tx = document.createElement('div');
  tx.className = 'lg';
  tx.style.left = (col ? 64 : 9) + 'px';
  tx.style.top = (y - 6) + 'px';
  tx.textContent = text;
  lg.appendChild(tx);
  return tx;
}
members.forEach((m,i)=>{ item(i%2, 39 + 15*Math.floor(i/2), memberColors[i], 'P'+(i+1)); });
item(0, 265, COL_CONTROL, 'Control');
item(1, 265, COL_MEAN, 'Ens. mean');
const cl = item(1, 293, COL_CLIM, '1991-2020\nmean');
cl.style.lineHeight = '10px'; cl.style.top = '288px';
item(0, 305, COL_OPER, 'Oper');
</script>
</body>
</html>
